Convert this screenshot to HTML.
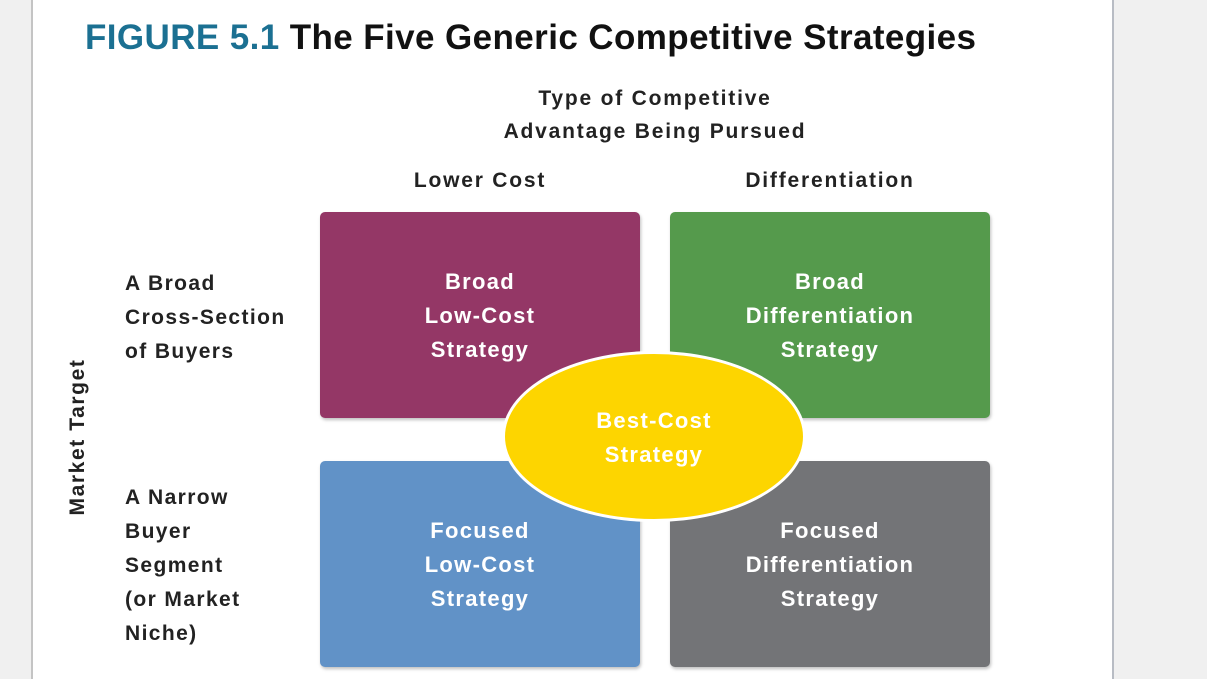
<!DOCTYPE html>
<html><head><style>
body{margin:0;width:1207px;height:679px;overflow:hidden;background:#fff;font-family:"Liberation Sans",Arial,sans-serif;position:relative}
.l{position:absolute;left:0;top:0;width:31px;height:679px;background:#f0f0f0;border-right:2px solid #c4c4c4}
.r{position:absolute;left:1112px;top:0;width:95px;height:679px;background:#f0f0f0;border-left:2px solid #b8bcc4}
.t{position:absolute;left:85px;top:18px;font-size:35px;font-weight:bold;color:#111;white-space:nowrap;letter-spacing:0.4px}
.t span{color:#1b7092}
.h{position:absolute;font-weight:bold;font-size:21px;color:#222;text-align:center;line-height:33px;letter-spacing:1.8px}
.box{position:absolute;width:320px;height:206px;border-radius:5px;box-shadow:1px 2px 3px rgba(0,0,0,.25);color:#fff;font-weight:bold;font-size:22px;line-height:34px;text-align:center;box-sizing:border-box;letter-spacing:1.3px}
.lbl{position:absolute;left:125px;font-weight:bold;font-size:21px;line-height:34px;color:#222;letter-spacing:1.4px}
</style></head><body>
<div class="l"></div><div class="r"></div>
<div class="t"><span>FIGURE 5.1</span> The Five Generic Competitive Strategies</div>
<div class="h" style="left:455px;top:82px;width:400px">Type of Competitive<br>Advantage Being Pursued</div>
<div class="h" style="left:380px;top:164px;width:200px">Lower Cost</div>
<div class="h" style="left:730px;top:164px;width:200px">Differentiation</div>
<div class="lbl" style="top:267px">A Broad<br>Cross-Section<br>of Buyers</div>
<div class="lbl" style="top:481px">A Narrow<br>Buyer<br>Segment<br>(or Market<br>Niche)</div>
<div style="position:absolute;top:437px;transform:translate(0,-50%) rotate(-90deg);transform-origin:center;width:200px;left:-22px;text-align:center;font-weight:bold;font-size:21px;color:#222;letter-spacing:1.6px">Market Target</div>
<div class="box" style="left:320px;top:212px;background:#943766;padding-top:53px">Broad<br>Low-Cost<br>Strategy</div>
<div class="box" style="left:670px;top:212px;background:#559a4c;padding-top:53px">Broad<br>Differentiation<br>Strategy</div>
<div class="box" style="left:320px;top:461px;background:#6192c7;padding-top:53px">Focused<br>Low-Cost<br>Strategy</div>
<div class="box" style="left:670px;top:461px;background:#737477;padding-top:53px">Focused<br>Differentiation<br>Strategy</div>
<div style="position:absolute;left:502px;top:351px;width:298px;height:165px;border:3px solid #fff;border-radius:50%;background:#fdd500;color:#fff;font-weight:bold;font-size:22px;line-height:34px;text-align:center;box-sizing:content-box;letter-spacing:1.3px">
<div style="padding-top:50px">Best-Cost<br>Strategy</div></div>
</body></html>
